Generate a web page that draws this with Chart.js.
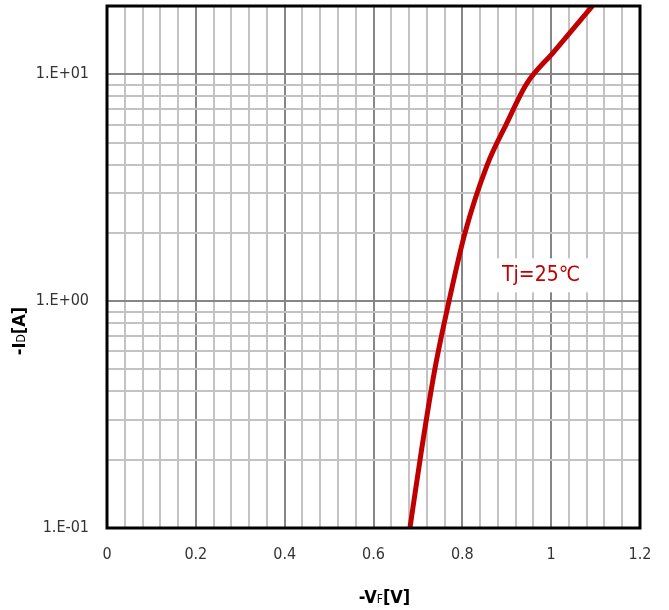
<!DOCTYPE html>
<html lang="en">
<head>
    <meta charset="UTF-8">
    <title>-ID vs -VF</title>
    <script src="https://cdn.jsdelivr.net/npm/chart.js"></script>
    <style>
        html, body { margin: 0; padding: 0; background: #fff; }
        #wrap { width: 669px; height: 610px; }
    </style>
</head>
<body>
    <div id="wrap"><canvas id="vfChart" width="669" height="610"></canvas></div>
    <script>
        // curve: forward voltage [V] vs drain current [A]
        const vf = [0.682, 0.708, 0.738, 0.770, 0.806, 0.855, 0.899, 0.945, 1.005, 1.093];
        const id = [0.10, 0.22, 0.50, 1.00, 2.00, 3.94, 6.03, 9.1, 12.5, 20.0];

        const xTickLabels = ['0', '0.2', '0.4', '0.6', '0.8', '1', '1.2'];
        const yTickLabels = ['1.E-01', '1.E+00', '1.E+01'];
        const curveLabel = 'Tj=25\u2103';
        const labelAt = { x: 0.977, y: 1.30 };

        const fam = "'Liberation Sans Narrow', 'DejaVu Sans Condensed', Lato, sans-serif";
        const tickFont = { family: fam, size: 16 };

        const isMajorX = v => Math.abs(v * 5 - Math.round(v * 5)) < 1e-6;
        const isMajorY = v => Math.abs(Math.log10(v) - Math.round(Math.log10(v))) < 1e-6;

        const extras = {
            id: 'extras',
            afterDraw(chart) {
                const ctx = chart.ctx;
                const a = chart.chartArea;
                ctx.save();
                // frame
                ctx.strokeStyle = '#000';
                ctx.lineWidth = 3;
                ctx.strokeRect(a.left, a.top, a.right - a.left, a.bottom - a.top);

                // curve label with white box
                const px = chart.scales.x.getPixelForValue(labelAt.x);
                const py = chart.scales.y.getPixelForValue(labelAt.y);
                ctx.font = '21px ' + fam;
                const w = ctx.measureText(curveLabel).width;
                ctx.fillStyle = '#fff';
                ctx.fillRect(px - w / 2 - 10, py - 17, w + 20, 34);
                ctx.fillStyle = '#c00000';
                ctx.textAlign = 'center';
                ctx.textBaseline = 'middle';
                ctx.fillText(curveLabel, px, py);

                // axis titles with small subscripts
                ctx.fillStyle = '#000';
                ctx.textBaseline = 'alphabetic';
                const big = 'bold 18px ' + fam;
                const small = '12px ' + fam;
                function title(parts, cx, cy) {
                    let total = 0;
                    parts.forEach(p => { ctx.font = p[1] ? small : big; total += ctx.measureText(p[0]).width; });
                    let x = cx - total / 2;
                    ctx.textAlign = 'left';
                    parts.forEach(p => {
                        ctx.font = p[1] ? small : big;
                        ctx.fillText(p[0], x, cy);
                        x += ctx.measureText(p[0]).width;
                    });
                }
                title([['-V', false], ['F', true], ['[V]', false]], (a.left + a.right) / 2 + 11, 603);
                ctx.translate(25, 331);
                ctx.rotate(-Math.PI / 2);
                title([['-I', false], ['D', true], ['[A]', false]], 0, 0);
                ctx.restore();
            }
        };

        new Chart(document.getElementById('vfChart'), {
            type: 'line',
            data: {
                datasets: [{
                    data: vf.map((v, i) => ({ x: v, y: id[i] })),
                    borderColor: '#c00000',
                    borderWidth: 5,
                    pointRadius: 0,
                    cubicInterpolationMode: 'monotone',
                    fill: false
                }]
            },
            options: {
                responsive: false,
                animation: false,
                layout: { padding: { top: 6, right: 29, left: 0, bottom: 0 } },
                plugins: { legend: { display: false }, tooltip: { enabled: false } },
                scales: {
                    x: {
                        type: 'linear',
                        min: 0,
                        max: 1.2,
                        afterBuildTicks(scale) {
                            const t = [];
                            for (let k = 0; k <= 30; k++) t.push({ value: k * 4 / 100 });
                            scale.ticks = t;
                        },
                        afterFit(scale) {
                            scale.height = 82;
                            scale.paddingLeft = 0;
                            scale.paddingRight = 0;
                        },
                        ticks: {
                            autoSkip: false,
                            maxRotation: 0,
                            padding: 17,
                            color: '#333',
                            font: tickFont,
                            callback(v) {
                                if (!isMajorX(v)) return '';
                                return xTickLabels[Math.round(v * 5)];
                            }
                        },
                        grid: {
                            drawTicks: false,
                            color: c => isMajorX(c.tick.value) ? '#868686' : '#c3c3c3',
                            lineWidth: 2
                        },
                        border: { display: false }
                    },
                    y: {
                        type: 'logarithmic',
                        min: 0.1,
                        max: 20,
                        afterBuildTicks(scale) {
                            const t = [];
                            [0.1, 1, 10].forEach(d => {
                                for (let m = 1; m <= 9; m++) {
                                    const v = m * d;
                                    if (v <= 20) t.push({ value: v });
                                }
                            });
                            t.push({ value: 20 });
                            scale.ticks = t;
                        },
                        afterFit(scale) {
                            scale.width = 107;
                            scale.paddingTop = 0;
                            scale.paddingBottom = 0;
                        },
                        ticks: {
                            autoSkip: false,
                            padding: 18,
                            color: '#333',
                            font: tickFont,
                            callback(v) {
                                if (!isMajorY(v)) return '';
                                return yTickLabels[Math.round(Math.log10(v)) + 1];
                            }
                        },
                        grid: {
                            drawTicks: false,
                            color: c => isMajorY(c.tick.value) ? '#868686' : '#c3c3c3',
                            lineWidth: 2
                        },
                        border: { display: false }
                    }
                }
            },
            plugins: [extras]
        });
    </script>
</body>
</html>
